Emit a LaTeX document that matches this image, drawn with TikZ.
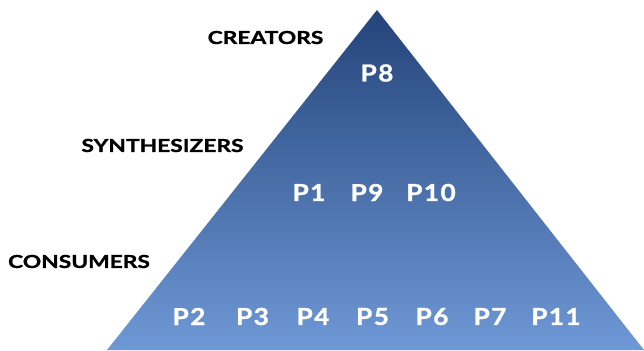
\documentclass[tikz,border=0pt]{standalone}
\usepackage{fontspec}
\setmainfont{Lato}
\newfontfamily\lvlfont[FakeStretch=1.27,FakeBold=1.2]{Lato Bold}
\newfontfamily\pfont[FakeStretch=1.12,FakeBold=1.2,LetterSpace=6]{Lato Bold}
\definecolor{topblue}{RGB}{36,68,122}
\definecolor{botblue}{RGB}{110,152,214}
\tikzset{
  lvl/.style={font=\lvlfont\fontsize{18}{20}\selectfont, text=black, inner sep=0pt},
  pl/.style={font=\pfont\fontsize{23.5}{26}\selectfont, text=white, inner sep=0pt}
}
\begin{document}
\begin{tikzpicture}[x=1bp,y=-1bp]
\useasboundingbox (0,0) rectangle (644,350);
\coordinate (apex) at (377,10);
\coordinate (bl) at (107,350);
\coordinate (br) at (644,350);
\shade[top color=topblue, bottom color=botblue] (apex) -- (br) -- (bl) -- cycle;
\node[lvl] (cre) at (265.5,37.5) {CREATORS};
\node[lvl] (syn) at (162.5,145.5) {SYNTHESIZERS};
\node[lvl] (con) at (79,261.5) {CONSUMERS};
\node[pl] (p8) at (377,73) {P8};
\node[pl] (p1) at (309,192.5) {P1};
\node[pl] (p9) at (367,192.5) {P9};
\node[pl] (p10) at (431,192.5) {P10};
\node[pl] (p2) at (189,316.5) {P2};
\node[pl] (p3) at (252.5,316.5) {P3};
\node[pl] (p4) at (313,316.5) {P4};
\node[pl] (p5) at (372.5,316.5) {P5};
\node[pl] (p6) at (432,316.5) {P6};
\node[pl] (p7) at (490,316.5) {P7};
\node[pl] (p11) at (556,316.5) {P11};
\end{tikzpicture}
\end{document}
